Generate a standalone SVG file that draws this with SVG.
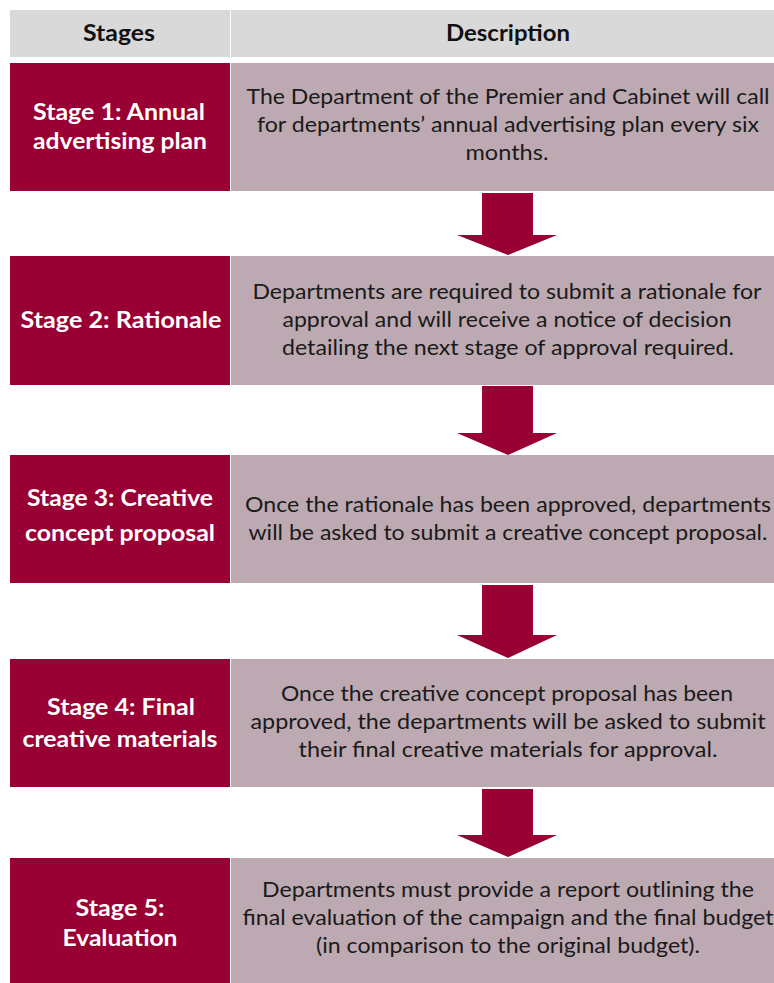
<svg xmlns="http://www.w3.org/2000/svg" width="774" height="983" viewBox="0 0 774 983">
<style>
.hdr{fill:#d9d9d9}
.stage{fill:#990033}
.desc{fill:#bda9b1}
.ht{font-family:Lato,"Liberation Sans",sans-serif;font-weight:bold;font-size:23px;fill:#111;text-anchor:middle}
.st{font-family:Lato,"Liberation Sans",sans-serif;font-weight:bold;font-size:22px;fill:#fff;text-anchor:middle}
.dt{font-family:Lato,"Liberation Sans",sans-serif;font-size:21px;fill:#1a1a1a;text-anchor:middle}
.arrow{fill:#990033}
</style>
<rect width="774" height="983" fill="#fff"/>
<g id="header">
<rect class="hdr" x="10" y="10" width="220" height="47"/>
<rect class="hdr" x="231" y="10" width="543" height="47"/>
<text class="ht" x="119" y="41" textLength="72" lengthAdjust="spacingAndGlyphs">Stages</text>
<text class="ht" x="508" y="41" textLength="124" lengthAdjust="spacingAndGlyphs">Description</text>
</g>
<g id="stage1">
<rect class="stage" x="10" y="63" width="220" height="128"/>
<rect class="desc" x="231" y="63" width="543" height="128"/>
<text class="st" x="119" y="120" textLength="172" lengthAdjust="spacingAndGlyphs">Stage 1: Annual</text>
<text class="st" x="120" y="149" textLength="174" lengthAdjust="spacingAndGlyphs">advertising plan</text>
<text class="dt" x="508" y="104" textLength="523" lengthAdjust="spacingAndGlyphs">The Department of the Premier and Cabinet will call</text>
<text class="dt" x="508" y="132" textLength="502" lengthAdjust="spacingAndGlyphs">for departments’ annual advertising plan every six</text>
<text class="dt" x="507" y="160" textLength="83" lengthAdjust="spacingAndGlyphs">months.</text>
</g>
<g id="stage2">
<rect class="stage" x="10" y="256" width="220" height="129"/>
<rect class="desc" x="231" y="256" width="543" height="129"/>
<text class="st" x="121" y="328" textLength="201" lengthAdjust="spacingAndGlyphs">Stage 2: Rationale</text>
<text class="dt" x="507" y="299" textLength="509" lengthAdjust="spacingAndGlyphs">Departments are required to submit a rationale for</text>
<text class="dt" x="507" y="327" textLength="449" lengthAdjust="spacingAndGlyphs">approval and will receive a notice of decision</text>
<text class="dt" x="508" y="355" textLength="452" lengthAdjust="spacingAndGlyphs">detailing the next stage of approval required.</text>
</g>
<g id="stage3">
<rect class="stage" x="10" y="455" width="220" height="128"/>
<rect class="desc" x="231" y="455" width="543" height="128"/>
<text class="st" x="120" y="506" textLength="186" lengthAdjust="spacingAndGlyphs">Stage 3: Creative</text>
<text class="st" x="120" y="541" textLength="190" lengthAdjust="spacingAndGlyphs">concept proposal</text>
<text class="dt" x="508" y="512" textLength="526" lengthAdjust="spacingAndGlyphs">Once the rationale has been approved, departments</text>
<text class="dt" x="508" y="540" textLength="519" lengthAdjust="spacingAndGlyphs">will be asked to submit a creative concept proposal.</text>
</g>
<g id="stage4">
<rect class="stage" x="10" y="659" width="220" height="128"/>
<rect class="desc" x="231" y="659" width="543" height="128"/>
<text class="st" x="121" y="715" textLength="148" lengthAdjust="spacingAndGlyphs">Stage 4: Final</text>
<text class="st" x="120" y="747" textLength="195" lengthAdjust="spacingAndGlyphs">creative materials</text>
<text class="dt" x="507" y="701" textLength="452" lengthAdjust="spacingAndGlyphs">Once the creative concept proposal has been</text>
<text class="dt" x="508" y="729" textLength="515" lengthAdjust="spacingAndGlyphs">approved, the departments will be asked to submit</text>
<text class="dt" x="508" y="757" textLength="419" lengthAdjust="spacingAndGlyphs">their final creative materials for approval.</text>
</g>
<g id="stage5">
<rect class="stage" x="10" y="858" width="220" height="125"/>
<rect class="desc" x="231" y="858" width="543" height="125"/>
<text class="st" x="120" y="916" textLength="89" lengthAdjust="spacingAndGlyphs">Stage 5:</text>
<text class="st" x="120" y="946" textLength="115" lengthAdjust="spacingAndGlyphs">Evaluation</text>
<text class="dt" x="508" y="897" textLength="492" lengthAdjust="spacingAndGlyphs">Departments must provide a report outlining the</text>
<text class="dt" x="508" y="925" textLength="531" lengthAdjust="spacingAndGlyphs">final evaluation of the campaign and the final budget</text>
<text class="dt" x="508" y="953" textLength="384" lengthAdjust="spacingAndGlyphs">(in comparison to the original budget).</text>
</g>
<g id="connectors">
<polygon class="arrow" points="482,193 533,193 533,235 557,235 508,255 457,235 482,235"/>
<polygon class="arrow" points="482,386 533,386 533,433 557,433 508,455 457,433 482,433"/>
<polygon class="arrow" points="482,585 533,585 533,635 557,635 508,658 457,635 482,635"/>
<polygon class="arrow" points="482,789 533,789 533,835 557,835 508,857 457,835 482,835"/>
</g>
</svg>
